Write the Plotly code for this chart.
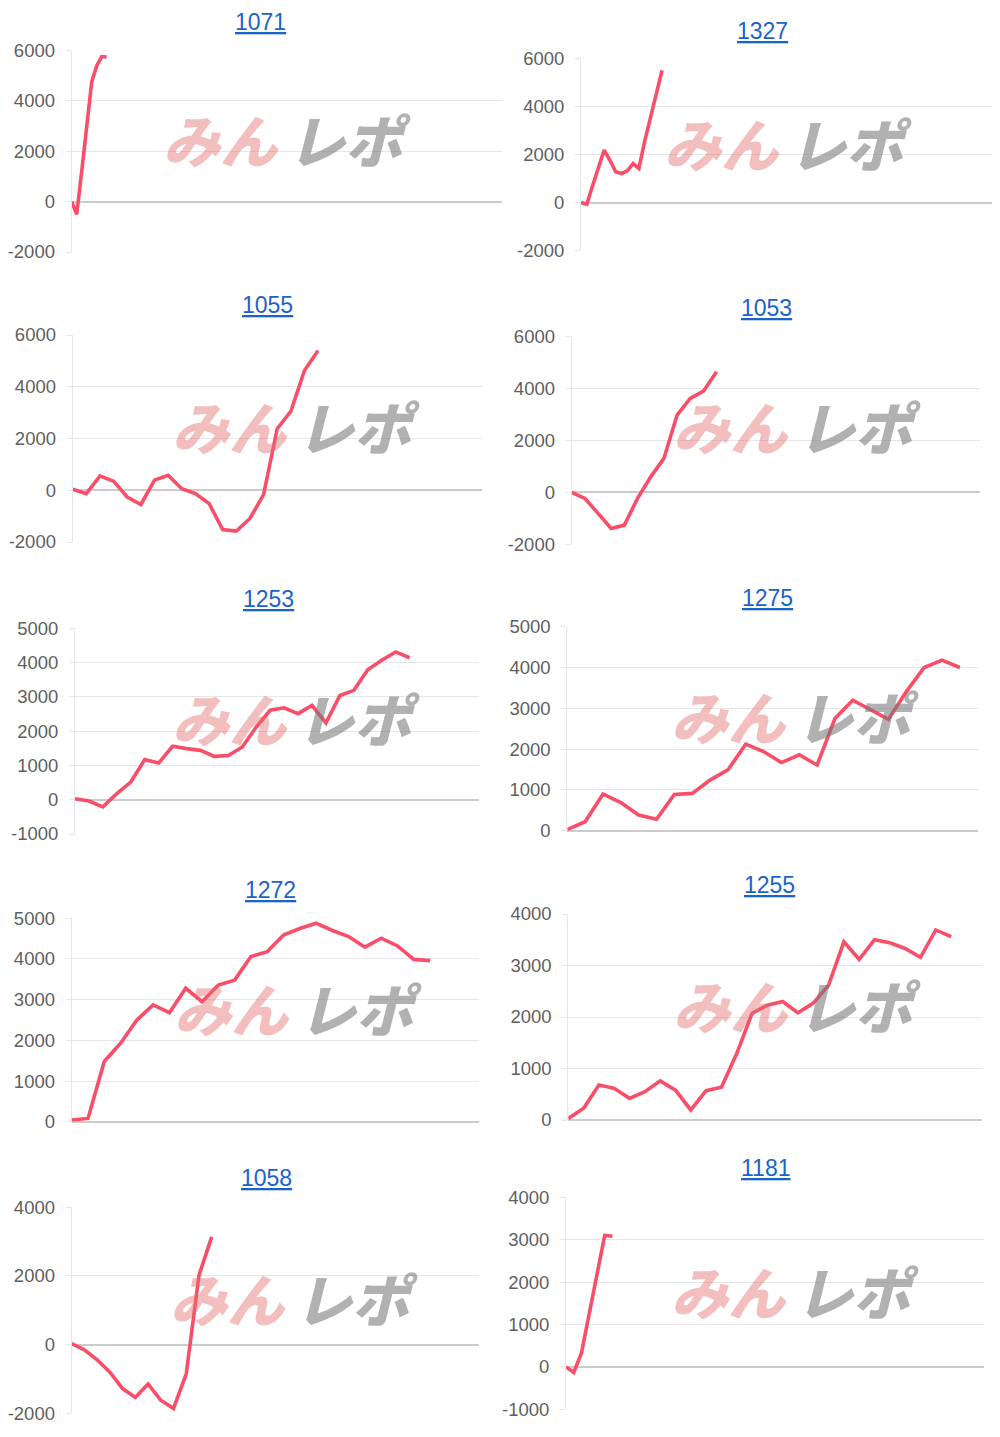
"""
機種別 差枚推移グラフ（10台分）— Plotly で再現
"""

import plotly.graph_objects as go

# ── データ ──
titles = ["1071", "1327", "1055", "1053", "1253", "1275", "1272", "1255", "1058", "1181"]

s1071 = [0, -500, 1200, 2900, 4750, 5400, 5760, 5740]
s1327 = [0, -70, 700, 1460, 2180, 1760, 1280, 1210, 1320, 1620, 1420, 2550, 3550, 4500, 5500]
s1055 = [40, -130, 550, 350, -260, -550, 390, 580, 60, -130, -510, -1520, -1580, -1090,
         -170, 2380, 3050, 4630, 5400]
s1053 = [0, -230, -810, -1390, -1260, -230, 600, 1310, 2980, 3620, 3900, 4650]
s1253 = [30, -40, -210, 175, 515, 1170, 1070, 1560, 1490, 1440, 1265, 1290, 1540, 2120,
         2610, 2680, 2510, 2750, 2240, 3040, 3190, 3790, 4070, 4310, 4140]
s1275 = [30, 220, 900, 690, 385, 280, 890, 915, 1240, 1490, 2120, 1940, 1670, 1860, 1610,
         2750, 3200, 2970, 2730, 3410, 4000, 4180, 4000]
s1272 = [40, 80, 1480, 1930, 2500, 2870, 2680, 3280, 2950, 3360, 3480, 4060, 4180, 4590,
         4750, 4880, 4700, 4550, 4290, 4510, 4320, 3990, 3960]
s1255 = [30, 230, 680, 615, 420, 550, 760, 580, 195, 570, 635, 1290, 2070, 2230, 2300,
         2080, 2270, 2620, 3460, 3120, 3500, 3440, 3330, 3160, 3690, 3560]
s1058 = [30, -150, -440, -800, -1280, -1540, -1150, -1620, -1860, -850, 2020, 3140]
s1181 = [0, -130, 330, 1250, 2150, 3100, 3080]

series = [s1071, s1327, s1055, s1053, s1253, s1275, s1272, s1255, s1058, s1181]

# x軸の枠数（グラフ幅に対するゲーム数）
x_slots = [86, 71, 30, 31, 29, 23, 25, 27, 32, 54]

# y軸: (最小, 最大, 間隔)
y_axes = [(-2000, 6000, 2000), (-2000, 6000, 2000), (-2000, 6000, 2000), (-2000, 6000, 2000),
          (-1000, 5000, 1000), (0, 5000, 1000), (0, 5000, 1000), (0, 4000, 1000),
          (-2000, 4000, 2000), (-1000, 4000, 1000)]

# ── 配置（ページ上のピクセル） ──
PAGE_W, PAGE_H = 1000, 1437
OFF = 8  # body の既定マージン
W, H = PAGE_W - 2 * OFF, PAGE_H - 2 * OFF

# (左, 右, 上端目盛, 下端目盛)
boxes = [
    (71.7, 502, 50.5, 252), (581, 993, 58.3, 250.7),
    (72.7, 481.7, 335, 542), (571.7, 980, 336.7, 544.3),
    (75, 479.3, 628.3, 834), (567.3, 977.7, 626.7, 830.7),
    (71.7, 479, 918.3, 1121.7), (568.3, 981.7, 914, 1120),
    (71.7, 479, 1207.3, 1413.3), (566, 984, 1197.3, 1409.3),
]
title_pos = [(260, 22), (762, 31), (267, 305), (766, 308), (268, 599),
             (767, 598), (270, 890), (769, 885), (266, 1178), (765, 1168)]
logo_pos = [(285, 138), (786, 142), (294, 425), (795, 425), (294, 717),
            (793, 715), (296, 1007), (795, 1004), (292, 1297), (793, 1290)]


def px(x):
    return (x - OFF) / W


def py(y):
    return 1 - (y - OFF) / H


LINE_COLOR = "rgb(250,78,104)"
GRID = "#e6e6e6"

fig = go.Figure()
layout = dict(
    width=W, height=H,
    autosize=False,
    margin=dict(l=0, r=0, t=0, b=0, pad=0, autoexpand=False),
    paper_bgcolor="white",
    plot_bgcolor="white",
    showlegend=False,
    font=dict(family="Liberation Sans, Arial, sans-serif", color="#666666"),
)
annotations = []

for i, (name, ys) in enumerate(zip(titles, series)):
    n = i + 1
    xa = "x" if n == 1 else f"x{n}"
    ya = "y" if n == 1 else f"y{n}"
    x0, x1, yt, yb = boxes[i]
    lo, hi, step = y_axes[i]
    ticks = list(range(lo, hi + 1, step))

    fig.add_trace(go.Scatter(
        x=list(range(len(ys))),
        y=ys,
        mode="lines",
        line=dict(color=LINE_COLOR, width=3.6),
        xaxis=xa, yaxis=ya,
        hoverinfo="skip",
    ))

    layout["xaxis" if n == 1 else f"xaxis{n}"] = dict(
        domain=[px(x0), min(px(x1), 1)],
        range=[0, x_slots[i]],
        showgrid=False, zeroline=False, showticklabels=False,
        showline=False, ticks="", automargin=False,
        anchor=ya,
    )
    layout["yaxis" if n == 1 else f"yaxis{n}"] = dict(
        domain=[py(yb), py(yt)],
        range=[lo, hi],
        tickvals=ticks,
        ticktext=[str(t) for t in ticks],
        tickfont=dict(size=18.5, color="#5f5f5f"),
        gridcolor=GRID, gridwidth=1,
        zeroline=True, zerolinecolor="#cccccc", zerolinewidth=1.6,
        showline=True, linecolor=GRID, linewidth=1,
        ticks="outside", ticklen=5, tickcolor=GRID,
        ticklabelstandoff=7, automargin=False,
        anchor=xa,
    )

    # タイトル（リンク風）
    tx, ty = title_pos[i]
    annotations.append(dict(
        text=f"<u>{name}</u>",
        x=px(tx), y=py(ty), xref="paper", yref="paper",
        xanchor="center", yanchor="middle", showarrow=False,
        font=dict(size=23, color="#1a63c9", family="Liberation Sans, Arial, sans-serif"),
    ))

    # ウォーターマーク「みんレポ」
    lx, ly = logo_pos[i]
    annotations.append(dict(
        text="みん", x=px(lx - 4), y=py(ly), xref="paper", yref="paper",
        xanchor="right", yanchor="middle", showarrow=False,
        font=dict(size=57, color="rgba(228,110,110,0.45)", family="Noto Sans CJK JP",
                  weight=900, style="italic"),
    ))
    annotations.append(dict(
        text="レポ", x=px(lx + 1), y=py(ly), xref="paper", yref="paper",
        xanchor="left", yanchor="middle", showarrow=False,
        font=dict(size=57, color="rgba(120,120,120,0.58)", family="Noto Sans CJK JP",
                  weight=900, style="italic"),
    ))

layout["annotations"] = annotations
fig.update_layout(**layout)

fig.write_html("out.html", config={"displayModeBar": False})
